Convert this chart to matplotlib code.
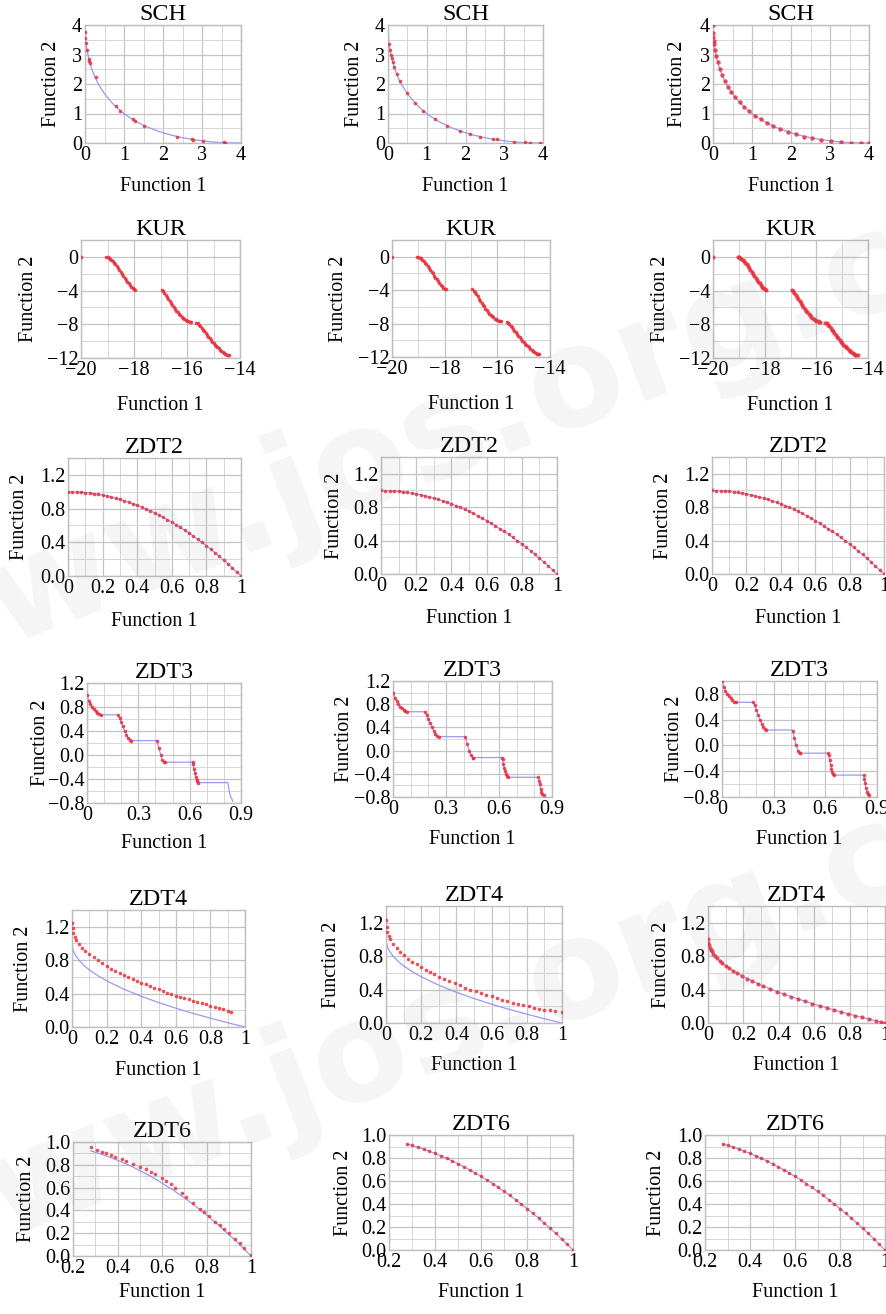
import numpy as np
import matplotlib
matplotlib.use('Agg')
import matplotlib.pyplot as plt
from matplotlib.ticker import MultipleLocator

nan = np.nan

# ---- true Pareto fronts (blue lines) ----
sch_front_x = [0, 0.02, 0.05, 0.1, 0.17, 0.25, 0.35, 0.5, 0.7, 0.9, 1.1, 1.35, 1.6, 1.9, 2.2, 2.5, 2.8, 3.1, 3.4, 3.7, 4.0]
sch_front_y = [4.0, 3.45, 3.16, 2.84, 2.52, 2.25, 1.98, 1.67, 1.35, 1.10, 0.90, 0.70, 0.54, 0.39, 0.27, 0.18, 0.11, 0.06, 0.02, 0.006, 0.0]

kur_front_x = [-19.05, -18.85, -18.65, -18.45, -18.25, -18.05, -17.95, nan,
               -16.95, -16.75, -16.55, -16.35, -16.15, -15.95, -15.85, nan,
               -15.65, -15.45, -15.25, -15.05, -14.85, -14.65, -14.4]
kur_front_y = [0.0, -0.35, -1.1, -2.0, -2.95, -3.7, -3.9, nan,
               -3.9, -4.75, -5.75, -6.6, -7.25, -7.65, -7.75, nan,
               -7.8, -8.45, -9.25, -10.05, -10.7, -11.3, -11.7]

zdt2_front_x = [0, 0.1, 0.2, 0.3, 0.4, 0.5, 0.6, 0.7, 0.8, 0.9, 1.0]
zdt2_front_y = [1.0, 0.99, 0.96, 0.91, 0.84, 0.75, 0.64, 0.51, 0.36, 0.19, 0.0]

zdt3_front_x = [0, 0.02, 0.04, 0.06, 0.083, 0.182, 0.2, 0.22, 0.24, 0.258, 0.409, 0.42, 0.44, 0.454,
                0.618, 0.63, 0.64, 0.653, 0.823, 0.835, 0.852]
zdt3_front_y = [1.0, 0.85, 0.76, 0.70, 0.67, 0.67, 0.55, 0.40, 0.28, 0.24, 0.24, 0.11, -0.08, -0.12,
                -0.12, -0.30, -0.41, -0.46, -0.46, -0.66, -0.77]

zdt4_front_x = [0, 0.005, 0.01, 0.02, 0.04, 0.07, 0.1, 0.15, 0.2, 0.3, 0.4, 0.5, 0.6, 0.7, 0.8, 0.9, 1.0]
zdt4_front_y = [1.0, 0.93, 0.9, 0.86, 0.8, 0.735, 0.684, 0.613, 0.553, 0.452, 0.368, 0.293, 0.225, 0.163, 0.106, 0.051, 0.0]

zdt6_front_x = [0.28, 0.3, 0.35, 0.4, 0.45, 0.5, 0.55, 0.6, 0.65, 0.7, 0.75, 0.8, 0.85, 0.9, 0.95, 1.0]
zdt6_front_y = [0.922, 0.91, 0.878, 0.84, 0.798, 0.75, 0.698, 0.64, 0.578, 0.51, 0.438, 0.36, 0.278, 0.19, 0.098, 0.0]

# ---- obtained solutions (red dots) ----
sch_a_x = [0.0, 0.01, 0.03, 0.06, 0.10, 0.11, 0.13, 0.27, 0.79, 0.91, 1.22, 1.28, 1.51, 2.35, 2.74, 2.77, 3.03, 3.56, 3.60]
sch_a_y = [3.75, 3.55, 3.40, 3.15, 2.85, 2.78, 2.70, 2.23, 1.24, 1.07, 0.81, 0.76, 0.59, 0.21, 0.12, 0.11, 0.07, 0.02, 0.01]

sch_b_x = [0.03, 0.06, 0.08, 0.10, 0.13, 0.16, 0.22, 0.30, 0.48, 0.69, 0.91, 1.21, 1.51, 1.86, 2.12, 2.38, 2.72, 2.81, 3.24, 3.54, 3.67, 3.93]
sch_b_y = [3.35, 3.15, 3.0, 2.88, 2.76, 2.57, 2.34, 2.1, 1.71, 1.37, 1.09, 0.81, 0.59, 0.40, 0.30, 0.21, 0.13, 0.12, 0.04, 0.02, 0.01, 0.0]

sch_c_x = [0.0, 0.005, 0.01, 0.02, 0.03, 0.05, 0.08, 0.12, 0.17, 0.23, 0.3, 0.38, 0.47, 0.57, 0.68, 0.8, 0.93,
           1.07, 1.22, 1.38, 1.55, 1.73, 1.92, 2.12, 2.33, 2.55, 2.78, 3.02, 3.27, 3.53, 3.8, 4.0]
sch_c_y = [4.0, 3.72, 3.61, 3.45, 3.34, 3.16, 2.95, 2.73, 2.52, 2.31, 2.11, 1.91, 1.73, 1.55, 1.38, 1.22, 1.07,
           0.93, 0.8, 0.68, 0.57, 0.47, 0.38, 0.3, 0.22, 0.16, 0.11, 0.07, 0.04, 0.015, 0.003, 0.0]

kur_pts_x = [-20.0,
             -19.05, -19.0, -18.95, -18.9, -18.85, -18.8, -18.75, -18.7, -18.65, -18.6, -18.55, -18.5,
             -18.45, -18.4, -18.35, -18.3, -18.25, -18.2, -18.15, -18.1, -18.05, -18.0, -17.95,
             -16.95, -16.9, -16.85, -16.8, -16.75, -16.7, -16.65, -16.6, -16.55, -16.5, -16.45, -16.4,
             -16.35, -16.3, -16.25, -16.2, -16.15, -16.1, -16.05, -16.0, -15.95, -15.9, -15.85,
             -15.65, -15.6, -15.55, -15.5, -15.45, -15.4, -15.35, -15.3, -15.25, -15.2, -15.15, -15.1,
             -15.05, -15.0, -14.95, -14.9, -14.85, -14.8, -14.75, -14.7, -14.65, -14.6, -14.55, -14.5,
             -14.45, -14.4]
kur_pts_y = [0.0,
             0.0, -0.02, -0.1, -0.2, -0.35, -0.5, -0.7, -0.9, -1.1, -1.3, -1.55, -1.78,
             -2.0, -2.25, -2.5, -2.72, -2.95, -3.15, -3.35, -3.55, -3.7, -3.82, -3.9,
             -3.9, -4.05, -4.25, -4.5, -4.75, -5.0, -5.25, -5.5, -5.75, -5.95, -6.2, -6.4,
             -6.6, -6.8, -6.95, -7.1, -7.25, -7.4, -7.5, -7.6, -7.65, -7.7, -7.75,
             -7.8, -7.9, -8.05, -8.25, -8.45, -8.65, -8.85, -9.05, -9.25, -9.45, -9.65, -9.85,
             -10.05, -10.2, -10.4, -10.55, -10.7, -10.85, -11.0, -11.15, -11.3, -11.4, -11.5, -11.6,
             -11.65, -11.7]

zdt2_pts_x = [0, 0.025, 0.05, 0.075, 0.1, 0.125, 0.15, 0.175, 0.2, 0.225, 0.25, 0.275, 0.3, 0.325, 0.35,
              0.375, 0.4, 0.425, 0.45, 0.475, 0.5, 0.525, 0.55, 0.575, 0.6, 0.625, 0.65, 0.675, 0.7,
              0.725, 0.75, 0.775, 0.8, 0.825, 0.85, 0.875, 0.9, 0.925, 0.95, 0.975, 1.0]
zdt2_pts_y = [1.0, 0.999, 0.998, 0.994, 0.99, 0.984, 0.978, 0.969, 0.96, 0.949, 0.938, 0.924, 0.91, 0.894,
              0.878, 0.859, 0.84, 0.819, 0.798, 0.774, 0.75, 0.724, 0.698, 0.669, 0.64, 0.609, 0.578,
              0.544, 0.51, 0.474, 0.438, 0.399, 0.36, 0.319, 0.278, 0.234, 0.19, 0.144, 0.098, 0.049, 0.0]

# ZDT3: four pieces found by every run, the fifth piece missed by the first run
zdt3_main_x = [0, 0.01, 0.02, 0.03, 0.04, 0.05, 0.06, 0.07, 0.08,
               0.182, 0.19, 0.2, 0.21, 0.22, 0.23, 0.24, 0.25, 0.258,
               0.41, 0.42, 0.43, 0.44, 0.45, 0.454,
               0.618, 0.62, 0.625, 0.63, 0.635, 0.64, 0.645, 0.65]
zdt3_main_y = [1.0, 0.90, 0.85, 0.80, 0.76, 0.73, 0.70, 0.68, 0.67,
               0.67, 0.62, 0.55, 0.48, 0.40, 0.33, 0.28, 0.25, 0.24,
               0.23, 0.11, 0.0, -0.08, -0.12, -0.12,
               -0.12, -0.15, -0.23, -0.30, -0.36, -0.41, -0.44, -0.46]
zdt3_tail_x = [0.823, 0.827, 0.83, 0.835, 0.84, 0.845, 0.852]
zdt3_tail_y = [-0.46, -0.52, -0.58, -0.66, -0.72, -0.75, -0.77]

zdt4_a_x = [0, 0.003, 0.008, 0.015, 0.025, 0.04, 0.055, 0.075, 0.1, 0.125, 0.15, 0.175, 0.2, 0.225, 0.25,
            0.275, 0.3, 0.325, 0.35, 0.375, 0.4, 0.425, 0.45, 0.475, 0.5, 0.525, 0.55, 0.575, 0.6, 0.625,
            0.65, 0.675, 0.7, 0.725, 0.75, 0.775, 0.8, 0.825, 0.85, 0.875, 0.9, 0.92]
zdt4_a_y = [1.24, 1.18, 1.13, 1.08, 1.04, 0.99, 0.95, 0.915, 0.875, 0.835, 0.80, 0.765, 0.735, 0.70, 0.67,
            0.645, 0.62, 0.595, 0.57, 0.55, 0.53, 0.51, 0.49, 0.47, 0.45, 0.43, 0.41, 0.395, 0.375, 0.36,
            0.345, 0.33, 0.315, 0.30, 0.285, 0.27, 0.255, 0.24, 0.225, 0.21, 0.195, 0.18]

zdt4_b_x = [0, 0.003, 0.008, 0.015, 0.025, 0.04, 0.06, 0.08, 0.1, 0.125, 0.15, 0.175, 0.2, 0.225, 0.25,
            0.275, 0.3, 0.33, 0.36, 0.39, 0.42, 0.45, 0.48, 0.51, 0.54, 0.57, 0.6, 0.63, 0.66, 0.69,
            0.72, 0.75, 0.78, 0.81, 0.84, 0.87, 0.9, 0.93, 0.96, 1.0]
zdt4_b_y = [1.23, 1.15, 1.09, 1.04, 1.0, 0.95, 0.90, 0.85, 0.81, 0.77, 0.735, 0.705, 0.67, 0.64, 0.615,
            0.585, 0.555, 0.525, 0.50, 0.475, 0.45, 0.42, 0.40, 0.38, 0.36, 0.34, 0.32, 0.295, 0.275, 0.26,
            0.245, 0.23, 0.215, 0.20, 0.185, 0.17, 0.16, 0.15, 0.14, 0.13]

zdt4_c_x = [0, 0.002, 0.005, 0.01, 0.015, 0.02, 0.03, 0.04, 0.05, 0.065, 0.08, 0.1, 0.12, 0.14, 0.165, 0.19,
            0.22, 0.25, 0.28, 0.31, 0.35, 0.39, 0.43, 0.47, 0.51, 0.55, 0.59, 0.63, 0.67, 0.71, 0.75, 0.79,
            0.83, 0.87, 0.91, 0.95, 0.98, 1.0]
zdt4_c_y = [1.0, 0.955, 0.929, 0.9, 0.878, 0.859, 0.827, 0.8, 0.776, 0.745, 0.717, 0.684, 0.654, 0.626, 0.594,
            0.564, 0.531, 0.5, 0.471, 0.443, 0.408, 0.376, 0.344, 0.314, 0.286, 0.258, 0.232, 0.206, 0.181,
            0.157, 0.134, 0.111, 0.089, 0.067, 0.046, 0.025, 0.01, 0.0]

zdt6_a_x = [0.28, 0.31, 0.33, 0.35, 0.37, 0.39, 0.42, 0.44, 0.47, 0.5, 0.53, 0.55, 0.57, 0.6, 0.62, 0.64,
            0.66, 0.69, 0.71, 0.74, 0.77, 0.79, 0.81, 0.84, 0.86, 0.88, 0.9, 0.93, 0.95, 0.97, 1.0]
zdt6_a_y = [0.955, 0.93, 0.915, 0.90, 0.885, 0.87, 0.85, 0.835, 0.81, 0.785, 0.76, 0.74, 0.715, 0.68, 0.655,
            0.63, 0.595, 0.55, 0.515, 0.465, 0.41, 0.385, 0.35, 0.30, 0.27, 0.235, 0.20, 0.15, 0.11, 0.07, 0.01]

zdt6_b_x = [0.28, 0.3, 0.325, 0.35, 0.375, 0.4, 0.425, 0.45, 0.475, 0.5, 0.525, 0.55, 0.575, 0.6, 0.625,
            0.65, 0.675, 0.7, 0.725, 0.75, 0.775, 0.8, 0.825, 0.85, 0.875, 0.9, 0.925, 0.95, 0.975, 1.0]
zdt6_b_y = [0.922, 0.91, 0.894, 0.878, 0.859, 0.84, 0.819, 0.798, 0.774, 0.75, 0.724, 0.698, 0.669, 0.64,
            0.609, 0.578, 0.544, 0.51, 0.474, 0.438, 0.399, 0.36, 0.319, 0.278, 0.234, 0.19, 0.144, 0.098,
            0.049, 0.0]

# ---- axis setups per problem ----
M = '\u2212'
axis_setup = {
    'SCH':  dict(xlim=(0, 4), xt=[0, 1, 2, 3, 4], xl=['0', '1', '2', '3', '4'], xm=0.5,
                 ylim=(0, 4), yt=[0, 1, 2, 3, 4], yl=['0', '1', '2', '3', '4'], ym=0.5),
    'KUR':  dict(xlim=(-20, -14), xt=[-20, -18, -16, -14], xl=[M + '20', M + '18', M + '16', M + '14'], xm=1,
                 ylim=(-12, 2), yt=[-12, -8, -4, 0], yl=[M + '12', M + '8', M + '4', '0'], ym=2),
    'ZDT2': dict(xlim=(0, 1), xt=[0, 0.2, 0.4, 0.6, 0.8, 1], xl=['0', '0.2', '0.4', '0.6', '0.8', '1'], xm=0.1,
                 ylim=(0, 1.4), yt=[0, 0.4, 0.8, 1.2], yl=['0.0', '0.4', '0.8', '1.2'], ym=0.2),
    'ZDT3': dict(xlim=(0, 0.9), xt=[0, 0.3, 0.6, 0.9], xl=['0', '0.3', '0.6', '0.9'], xm=0.1,
                 ylim=(-0.8, 1.2), yt=[-0.8, -0.4, 0, 0.4, 0.8, 1.2],
                 yl=[M + '0.8', M + '0.4', '0.0', '0.4', '0.8', '1.2'], ym=0.2),
    'ZDT4': dict(xlim=(0, 1), xt=[0, 0.2, 0.4, 0.6, 0.8, 1], xl=['0', '0.2', '0.4', '0.6', '0.8', '1'], xm=0.1,
                 ylim=(0, 1.4), yt=[0, 0.4, 0.8, 1.2], yl=['0.0', '0.4', '0.8', '1.2'], ym=0.2),
    'ZDT6': dict(xlim=(0.2, 1), xt=[0.2, 0.4, 0.6, 0.8, 1], xl=['0.2', '0.4', '0.6', '0.8', '1'], xm=0.1,
                 ylim=(0, 1), yt=[0, 0.2, 0.4, 0.6, 0.8, 1.0], yl=['0.0', '0.2', '0.4', '0.6', '0.8', '1.0'], ym=0.1),
}
zdt3_short = dict(axis_setup['ZDT3'], ylim=(-0.8, 1.0), yt=[-0.8, -0.4, 0, 0.4, 0.8],
                  yl=[M + '0.8', M + '0.4', '0.0', '0.4', '0.8'])

fronts = {
    'SCH': (sch_front_x, sch_front_y), 'KUR': (kur_front_x, kur_front_y),
    'ZDT2': (zdt2_front_x, zdt2_front_y), 'ZDT3': (zdt3_front_x, zdt3_front_y),
    'ZDT4': (zdt4_front_x, zdt4_front_y), 'ZDT6': (zdt6_front_x, zdt6_front_y),
}

W, H = 886, 1314
plt.rcParams['font.family'] = 'serif'
plt.rcParams['font.serif'] = ['Liberation Serif', 'DejaVu Serif']
plt.rcParams['font.size'] = 14.5

fig = plt.figure(figsize=(W / 100, H / 100), dpi=100)

# faint site watermark behind the panels
for wy in (0.665, 0.215):
    fig.text(0.49, wy, 'www.jos.org.cn', rotation=21, fontsize=100, fontweight='bold',
             family='DejaVu Sans', color='#9a9a9a', alpha=0.10, ha='center', va='center', zorder=0)


def panel(box, name, px, py, ylab_off, xlab_off=45, setup=None, ms=2.6):
    l, t, r, b = box
    ax = fig.add_axes([l / W, 1 - b / H, (r - l) / W, (b - t) / H])
    ax.patch.set_alpha(0)
    s = setup or axis_setup[name]
    fx, fy = fronts[name]
    ax.plot(fx, fy, color='#8f8ff2', lw=0.9, alpha=0.9, zorder=2)
    ax.plot(px, py, 'o', ms=ms, color='#e8303c', mec='none', alpha=0.85, zorder=3)
    ax.set_xlim(*s['xlim'])
    ax.set_ylim(*s['ylim'])
    ax.set_xticks(s['xt'])
    ax.set_xticklabels(s['xl'])
    ax.set_yticks(s['yt'])
    ax.set_yticklabels(s['yl'])
    ax.xaxis.set_minor_locator(MultipleLocator(s['xm']))
    ax.yaxis.set_minor_locator(MultipleLocator(s['ym']))
    ax.tick_params(which='both', length=0, pad=2)
    ax.grid(True, which='major', color='#c4c4c4', lw=0.9)
    ax.grid(True, which='minor', color='#d6d6d6', lw=0.7)
    ax.set_axisbelow(True)
    for sp in ax.spines.values():
        sp.set_color('#bdbdbd')
        sp.set_linewidth(1.0)
    ax.set_title(name, pad=1)
    ax.set_xlabel('Function 1')
    ax.set_ylabel('Function 2')
    ax.xaxis.set_label_coords(0.5, -(xlab_off - 11) / (b - t))
    ax.yaxis.set_label_coords(-(ylab_off - 11) / (r - l), 0.5)
    return ax


# column 1
panel((85, 25, 241, 143), 'SCH', sch_a_x, sch_a_y, 35)
panel((81, 240, 240, 358), 'KUR', kur_pts_x, kur_pts_y, 54, 49)
panel((68, 458, 241, 576), 'ZDT2', zdt2_pts_x, zdt2_pts_y, 50, 47)
panel((87, 683, 241, 803), 'ZDT3', zdt3_main_x, zdt3_main_y, 48, 42)
panel((72, 910, 245, 1027), 'ZDT4', zdt4_a_x, zdt4_a_y, 50)
panel((73, 1142, 251, 1256), 'ZDT6', zdt6_a_x, zdt6_a_y, 48, 38)

# column 2
panel((388, 25, 543, 143), 'SCH', sch_b_x, sch_b_y, 35)
panel((392, 240, 550, 357), 'KUR', kur_pts_x, kur_pts_y, 55, 49)
panel((381, 457, 557, 574), 'ZDT2', zdt2_pts_x, zdt2_pts_y, 48, 46)
panel((393, 681, 552, 797), 'ZDT3', zdt3_main_x + zdt3_tail_x, zdt3_main_y + zdt3_tail_y, 50, 44)
panel((386, 906, 562, 1023), 'ZDT4', zdt4_b_x, zdt4_b_y, 56, 44)
panel((389, 1135, 573, 1250), 'ZDT6', zdt6_b_x, zdt6_b_y, 47, 44)

# column 3
panel((713, 25, 869, 143), 'SCH', sch_c_x, sch_c_y, 37, ms=3.2)
panel((713, 240, 868, 358), 'KUR', kur_pts_x, kur_pts_y, 54, 49, ms=3.0)
panel((712, 457, 884, 574), 'ZDT2', zdt2_pts_x, zdt2_pts_y, 50, 46)
panel((722, 681, 877, 797), 'ZDT3', zdt3_main_x + zdt3_tail_x, zdt3_main_y + zdt3_tail_y, 49, 44,
      setup=zdt3_short)
panel((708, 906, 885, 1023), 'ZDT4', zdt4_c_x, zdt4_c_y, 48, 44, ms=3.0)
panel((705, 1135, 885, 1250), 'ZDT6', zdt6_b_x, zdt6_b_y, 50, 44)

fig.savefig('out.png', dpi=100)
